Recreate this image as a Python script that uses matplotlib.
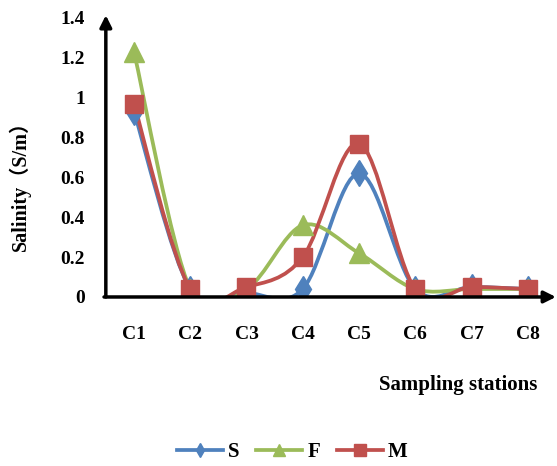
import matplotlib
matplotlib.use('Agg')
import matplotlib.pyplot as plt
import numpy as np
from matplotlib.path import Path
from matplotlib.patches import PathPatch
from matplotlib.lines import Line2D

plt.rcParams['font.family'] = ['Liberation Serif', 'Noto Sans CJK SC']
plt.rcParams['font.weight'] = 'bold'

# Salinity per sampling station
stations = ['C1', 'C2', 'C3', 'C4', 'C5', 'C6', 'C7', 'C8']
sal_s = [0.93, 0.04, 0.02, 0.04, 0.62, 0.04, 0.05, 0.04]
sal_f = [1.23, 0.04, 0.04, 0.36, 0.22, 0.04, 0.04, 0.04]
sal_m = [0.97, 0.04, 0.05, 0.20, 0.77, 0.04, 0.05, 0.04]

# name, values, colour, marker, marker size, legend marker size
series = [('S', sal_s, '#4F81BD', 'd', 13, 7),
          ('F', sal_f, '#9BBB59', '^', 14, 8.5),
          ('M', sal_m, '#C0504D', 's', 12.5, 8.5)]


def smooth_path(x, y):
    # Catmull-Rom style bezier through the points (spreadsheet "smoothed line")
    pts = np.column_stack([x, y]).astype(float)
    n = len(pts)
    verts = [pts[0]]
    codes = [Path.MOVETO]
    for i in range(n - 1):
        p_prev = pts[i - 1] if i > 0 else pts[i]
        p_next2 = pts[i + 2] if i + 2 < n else pts[i + 1]
        c1 = pts[i] + (pts[i + 1] - p_prev) / 6.0
        c2 = pts[i + 1] - (p_next2 - pts[i]) / 6.0
        verts += [c1, c2, pts[i + 1]]
        codes += [Path.CURVE4] * 3
    return Path(verts, codes)


fig = plt.figure(figsize=(5.57, 4.66), dpi=100)
ax = fig.add_axes([0.190, 0.3627, 0.808, 0.5987])

xpos = np.arange(1, len(stations) + 1)
for name, vals, color, marker, ms, _ in series:
    patch = PathPatch(smooth_path(xpos, vals), facecolor='none', edgecolor=color,
                      linewidth=2.7, capstyle='round', joinstyle='round', zorder=3)
    ax.add_patch(patch)
    ax.plot(xpos, vals, linestyle='none', marker=marker, markersize=ms,
            color=color, markeredgecolor=color, zorder=4)

ax.set_xlim(0.5, 8.5)
ax.set_ylim(0, 1.4)
ax.set_xticks(xpos)
ax.set_xticklabels(stations)
ax.set_yticks(np.arange(0, 1.41, 0.2))
ax.set_yticklabels(['0', '0.2', '0.4', '0.6', '0.8', '1', '1.2', '1.4'])
ax.tick_params(length=0, labelsize=14)
ax.tick_params(axis='x', pad=21)
ax.tick_params(axis='y', pad=15)
for s in ax.spines.values():
    s.set_visible(False)

# Axis lines with arrow heads
arrow = dict(arrowstyle='-|>,head_length=0.7,head_width=0.35', color='black', lw=2.5,
             shrinkA=0, shrinkB=0)
ax.annotate('', xy=(0, 1.01), xytext=(0, 0), xycoords='axes fraction', arrowprops=arrow,
            annotation_clip=False, zorder=5)
ax.annotate('', xy=(1.0, 0), xytext=(-0.004, 0), xycoords='axes fraction', arrowprops=arrow,
            annotation_clip=False, zorder=5)

fig.text(0.036, 0.612, 'Salinity（S/m）', rotation=90, ha='center', va='center',
         fontsize=14.5, fontweight='bold')
fig.text(0.822, 0.174, 'Sampling stations', ha='center', va='center',
         fontsize=15, fontweight='bold')

handles = [Line2D([], [], color=c, marker=m, markersize=lms, linewidth=2.7)
           for _, _, c, m, _, lms in series]
fig.legend(handles, [s[0] for s in series], loc='center', bbox_to_anchor=(0.525, 0.03),
           ncol=3, frameon=False, fontsize=15, handlelength=2.2, handletextpad=0.25,
           columnspacing=0.8, borderpad=0.1)

plt.savefig('out.png', dpi=100, facecolor='white')
plt.close()
